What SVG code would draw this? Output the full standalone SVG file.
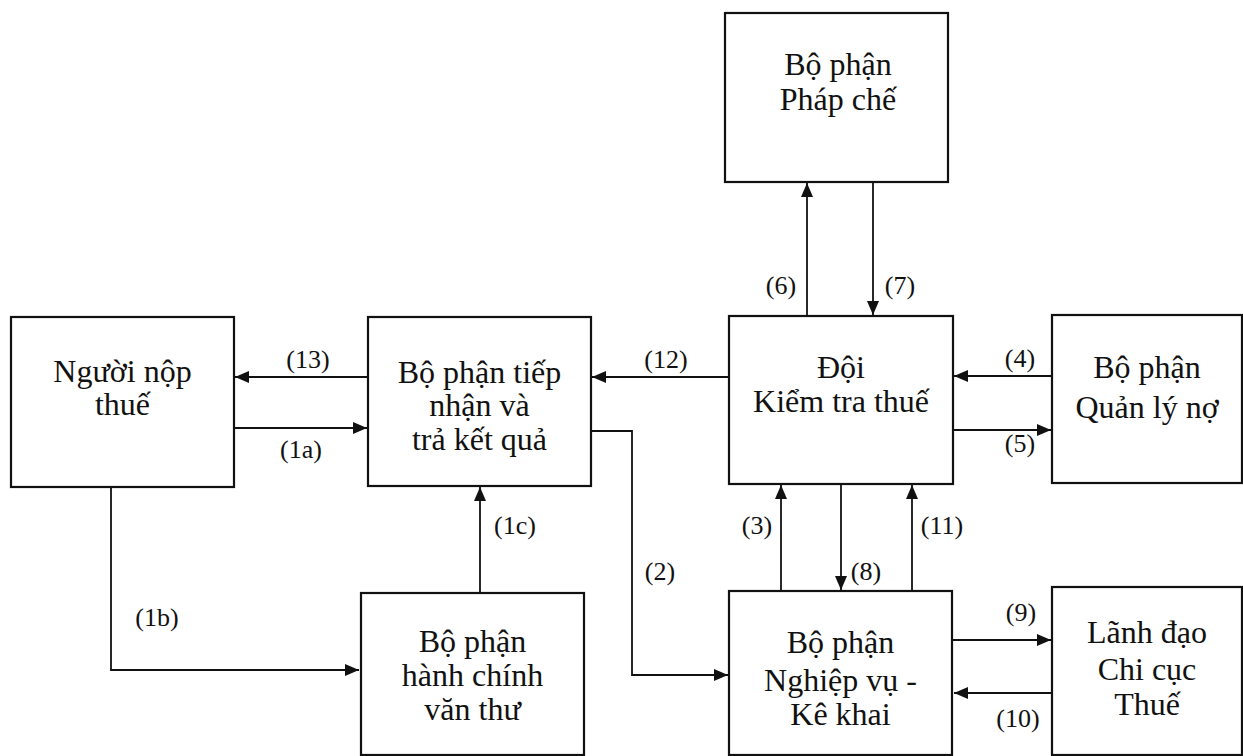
<svg xmlns="http://www.w3.org/2000/svg" width="1243" height="756" viewBox="0 0 1243 756">
<style>
.box{fill:#fff;stroke:#111;stroke-width:2.2}
.t{font-family:"Liberation Serif","Times New Roman",serif;font-size:32px;fill:#111;text-anchor:middle}
.l{font-family:"Liberation Serif","Times New Roman",serif;font-size:26px;fill:#111;text-anchor:middle}
.c{fill:none;stroke:#111;stroke-width:1.8}
</style>
<defs>
<marker id="ah" viewBox="0 0 14 12" refX="14" refY="6" markerWidth="14" markerHeight="12" markerUnits="userSpaceOnUse" orient="auto">
<path d="M0,0 L14,6 L0,12 Z" fill="#111"/>
</marker>
</defs>
<rect width="1243" height="756" fill="#fff"/>
<g id="connectors">
<line class="c" x1="368" y1="377" x2="235" y2="377" marker-end="url(#ah)"/>
<line class="c" x1="234" y1="428" x2="367" y2="428" marker-end="url(#ah)"/>
<line class="c" x1="729" y1="377" x2="592" y2="377" marker-end="url(#ah)"/>
<polyline class="c" points="591,431 632,431 632,675 728,675" marker-end="url(#ah)"/>
<line class="c" x1="1052" y1="376" x2="954" y2="376" marker-end="url(#ah)"/>
<line class="c" x1="953" y1="430" x2="1051" y2="430" marker-end="url(#ah)"/>
<line class="c" x1="807" y1="316" x2="807" y2="183" marker-end="url(#ah)"/>
<line class="c" x1="873" y1="182" x2="873" y2="315" marker-end="url(#ah)"/>
<line class="c" x1="781" y1="591" x2="781" y2="485" marker-end="url(#ah)"/>
<line class="c" x1="841" y1="484" x2="841" y2="590" marker-end="url(#ah)"/>
<line class="c" x1="912" y1="591" x2="912" y2="485" marker-end="url(#ah)"/>
<line class="c" x1="953" y1="640" x2="1051" y2="640" marker-end="url(#ah)"/>
<line class="c" x1="1052" y1="693" x2="954" y2="693" marker-end="url(#ah)"/>
<polyline class="c" points="111,487 111,670 359,670" marker-end="url(#ah)"/>
<line class="c" x1="480" y1="593" x2="480" y2="487" marker-end="url(#ah)"/>
<text class="l" x="308" y="368">(13)</text>
<text class="l" x="301" y="458">(1a)</text>
<text class="l" x="666" y="368">(12)</text>
<text class="l" x="1020" y="367">(4)</text>
<text class="l" x="1020" y="452">(5)</text>
<text class="l" x="781" y="294">(6)</text>
<text class="l" x="900" y="294">(7)</text>
<text class="l" x="157" y="626">(1b)</text>
<text class="l" x="515" y="534">(1c)</text>
<text class="l" x="660" y="580">(2)</text>
<text class="l" x="757" y="534">(3)</text>
<text class="l" x="866" y="580">(8)</text>
<text class="l" x="942" y="534">(11)</text>
<text class="l" x="1021" y="621">(9)</text>
<text class="l" x="1018" y="727">(10)</text>
</g>
<g id="nguoi-nop-thue">
<rect class="box" x="11" y="317" width="223" height="170"/>
<text class="t" x="122.5" y="382">Người nộp</text>
<text class="t" x="122.5" y="415">thuế</text>
</g>
<g id="tiep-nhan">
<rect class="box" x="368" y="317" width="223" height="169"/>
<text class="t" x="479.5" y="383">Bộ phận tiếp</text>
<text class="t" x="479.5" y="416">nhận và</text>
<text class="t" x="479.5" y="450">trả kết quả</text>
</g>
<g id="doi-kiem-tra">
<rect class="box" x="729" y="316" width="224" height="168"/>
<text class="t" x="841" y="378">Đội</text>
<text class="t" x="841" y="412">Kiểm tra thuế</text>
</g>
<g id="quan-ly-no">
<rect class="box" x="1052" y="315" width="190" height="168"/>
<text class="t" x="1147" y="378">Bộ phận</text>
<text class="t" x="1147" y="418">Quản lý nợ</text>
</g>
<g id="phap-che">
<rect class="box" x="725" y="13" width="223" height="169"/>
<text class="t" x="838" y="75">Bộ phận</text>
<text class="t" x="838" y="110">Pháp chế</text>
</g>
<g id="hanh-chinh">
<rect class="box" x="361" y="593" width="223" height="162"/>
<text class="t" x="472.5" y="652">Bộ phận</text>
<text class="t" x="472.5" y="686">hành chính</text>
<text class="t" x="472.5" y="720">văn thư</text>
</g>
<g id="nghiep-vu">
<rect class="box" x="729" y="591" width="223" height="164"/>
<text class="t" x="840.5" y="653">Bộ phận</text>
<text class="t" x="840.5" y="691">Nghiệp vụ -</text>
<text class="t" x="840.5" y="725">Kê khai</text>
</g>
<g id="lanh-dao">
<rect class="box" x="1052" y="587" width="190" height="168"/>
<text class="t" x="1147" y="643">Lãnh đạo</text>
<text class="t" x="1147" y="680">Chi cục</text>
<text class="t" x="1147" y="715">Thuế</text>
</g>
</svg>
